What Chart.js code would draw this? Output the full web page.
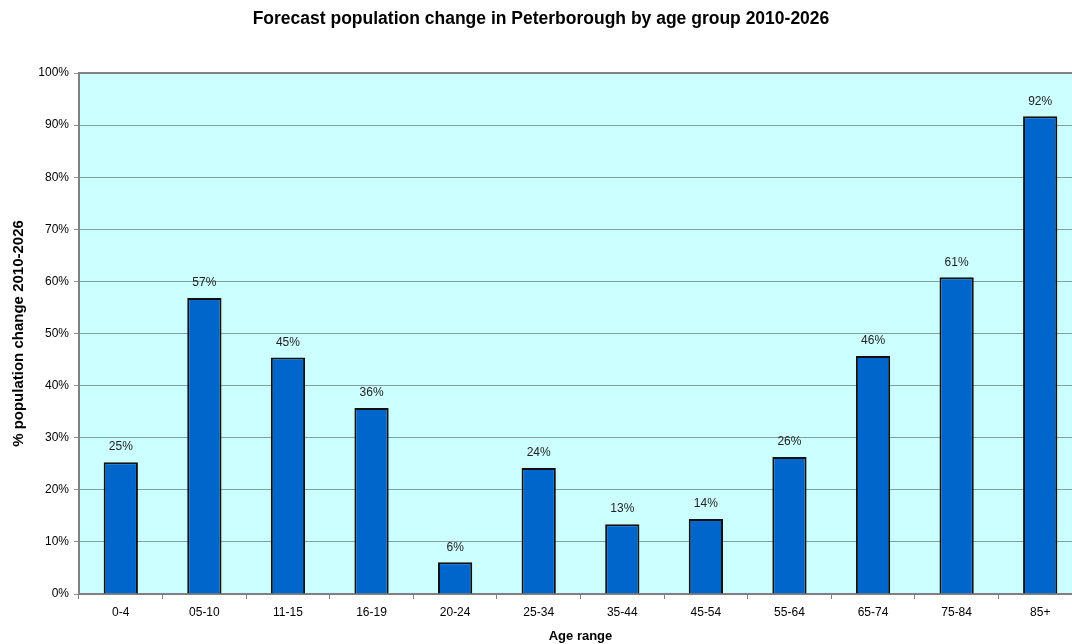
<!DOCTYPE html>
<html>
<head>
<meta charset="utf-8">
<script src="https://cdn.jsdelivr.net/npm/chart.js@4/dist/chart.umd.min.js"></script>
<style>
  html, body { margin: 0; padding: 0; background: #fff; overflow: hidden; }
  #wrap { width: 1082px; height: 644px; }
</style>
</head>
<body>
<div id="wrap"><canvas id="mycanvas" width="1082" height="644"></canvas></div>
<script>
var ageGroups = ["0-4", "05-10", "11-15", "16-19", "20-24", "25-34", "35-44", "45-54", "55-64", "65-74", "75-84", "85+"];
var changePct = [25.3, 56.8, 45.4, 35.7, 6.1, 24.2, 13.4, 14.4, 26.3, 45.7, 60.8, 91.7];
var yTicks = [0, 10, 20, 30, 40, 50, 60, 70, 80, 90, 100];

var FONT = "Arial, 'Liberation Sans', sans-serif";

// cyan plot background + grey border
var plotArea = {
	id: "plotArea",
	beforeDraw: function(chart) {
		var a = chart.chartArea, ctx = chart.ctx;
		ctx.save();
		ctx.fillStyle = "#ccffff";
		ctx.fillRect(a.left, a.top, a.right - a.left, a.bottom - a.top);
		ctx.restore();
	},
	afterDraw: function(chart) {
		var a = chart.chartArea, ctx = chart.ctx;
		ctx.save();
		ctx.strokeStyle = "#808080";
		ctx.lineWidth = 2;
		ctx.beginPath();
		ctx.moveTo(a.left, a.top);
		ctx.lineTo(a.right, a.top);
		ctx.stroke();
		ctx.restore();
	}
};

// value labels above the bars
var barLabels = {
	id: "barLabels",
	afterDatasetsDraw: function(chart) {
		var ctx = chart.ctx;
		var meta = chart.getDatasetMeta(0);
		ctx.save();
		ctx.font = "12px " + FONT;
		ctx.fillStyle = "#222";
		ctx.textAlign = "center";
		ctx.textBaseline = "middle";
		meta.data.forEach(function(bar, i) {
			ctx.fillText(Math.round(changePct[i]) + "%", bar.x, bar.y - 15);
		});
		ctx.restore();
	}
};

var ctx = document.getElementById("mycanvas");

var chart = new Chart(ctx, {
	type: "bar",
	data: {
		labels: ageGroups,
		datasets: [{
			data: changePct,
			backgroundColor: "#0066cc",
			borderColor: "#111111",
			borderWidth: 2,
			categoryPercentage: 1,
			barPercentage: 0.41
		}]
	},
	options: {
		responsive: false,
		animation: false,
		layout: { padding: 0 },
		plugins: {
			legend: { display: false },
			tooltip: { enabled: false },
			title: {
				display: true,
				text: "Forecast population change in Peterborough by age group 2010-2026",
				color: "#000",
				font: { family: FONT, size: 17.5, weight: "bold" },
				padding: { top: 9, bottom: 43 }
			}
		},
		scales: {
			x: {
				afterFit: function(s) { s.height = 50; },
				grid: { drawOnChartArea: false, drawTicks: true, tickLength: 5, color: "#808080", offset: true },
				border: { color: "#808080", width: 2 },
				ticks: { color: "#000", font: { family: FONT, size: 12 }, padding: 6, maxRotation: 0 },
				title: {
					display: true,
					text: "Age range",
					color: "#000",
					font: { family: FONT, size: 13, weight: "bold" },
					padding: { top: 12, bottom: 0 }
				}
			},
			y: {
				min: 0,
				max: 100,
				afterFit: function(s) { s.width = 79; },
				afterBuildTicks: function(s) {
					s.ticks = yTicks.map(function(v) { return { value: v }; });
				},
				grid: { color: "#7f9f9f", tickLength: 5, lineWidth: 1 },
				border: { color: "#808080", width: 2 },
				ticks: {
					color: "#000",
					font: { family: FONT, size: 12 },
					padding: 5,
					callback: function(v) { return v + "%"; }
				},
				title: {
					display: true,
					text: "% population change 2010-2026",
					color: "#000",
					font: { family: FONT, size: 15, weight: "bold" },
					padding: { top: 10, bottom: 0 }
				}
			}
		}
	},
	plugins: [plotArea, barLabels]
});
</script>
</body>
</html>
